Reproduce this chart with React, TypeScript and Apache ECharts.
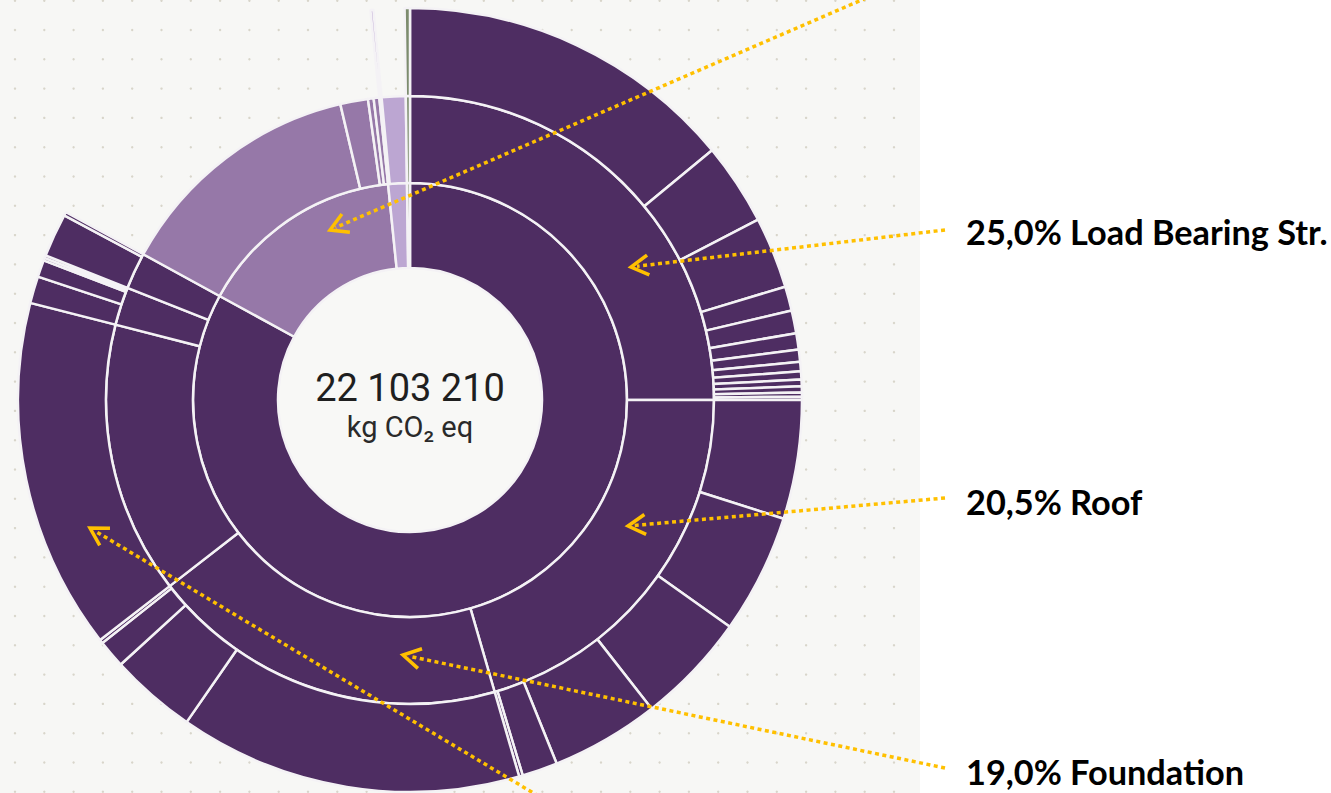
import React, { useEffect, useRef } from "react";
import * as echarts from "echarts";

// ---------- data (shares in % of the total) ----------
const TOTAL_KG = 22103210;
const centerValue = "22 103 210";
const centerUnit = "kg CO₂ eq";

const groupNames = ["Building Body", "Installations", "Site", "Other"];
const groupColors = ["#4e2d62", "#9678a8", "#bca6d2", "#7d8c6e"];

const bodyParts = ["Load Bearing Str.", "Roof", "Foundation", "Exterior Walls", "Floors", "Stairs"];
const loadBearingShares = [14.0, 3.39, 2.94, 1.0, 0.94, 0.67, 0.5, 0.39, 0.33, 0.28, 0.25, 0.17, 0.14];
const roofShares = [4.89, 4.92, 4.61, 4.47, 1.46, 0.15];
const foundationShares = [14.14, 3.56, 1.15, 0.15];
const wallShares = [14.47];
const floorShares = [1.11, 0.7, 0.11, 0.11];
const stairShares = [1.79, 0.15];

const installationParts = ["Heating", "Ventilation", "Electrical", "Plumbing"];
const installationShares = [13.36, 1.47, 0.3, 0.3];

const siteParts = ["Paving", "Landscaping"];
const siteShares = [0.12, 1.27];
const siteLeafShares = [0.12];

const otherParts = ["Misc."];
const otherShares = [0.22];

const annotationTexts = ["25,0% Load Bearing Str.", "20,5% Roof", "19,0% Foundation"];

// ---------- tree building ----------
const toKg = (pct: number) => (pct * TOTAL_KG) / 100;

function leaves(prefix: string, shares: number[], color: string) {
  return shares.map((s, i) => ({
    name: `${prefix} ${i + 1}`,
    value: toKg(s),
    itemStyle: { color },
  }));
}

function buildData() {
  const dark = groupColors[0];
  const bodyLeafSets = [loadBearingShares, roofShares, foundationShares, wallShares, floorShares, stairShares];
  const body = {
    name: groupNames[0],
    itemStyle: { color: dark },
    children: bodyParts.map((p, i) => ({
      name: p,
      itemStyle: { color: dark },
      children: leaves(p, bodyLeafSets[i], dark),
    })),
  };
  const inst = {
    name: groupNames[1],
    itemStyle: { color: groupColors[1] },
    children: installationParts.map((p, i) => ({
      name: p,
      value: toKg(installationShares[i]),
      itemStyle: { color: groupColors[1] },
    })),
  };
  const site = {
    name: groupNames[2],
    itemStyle: { color: groupColors[2] },
    children: siteParts.map((p, i) =>
      i === 0
        ? { name: p, itemStyle: { color: groupColors[2] }, children: leaves(p, siteLeafShares, groupColors[2]) }
        : { name: p, value: toKg(siteShares[i]), itemStyle: { color: groupColors[2] } }
    ),
  };
  const other = {
    name: groupNames[3],
    itemStyle: { color: groupColors[3] },
    children: otherParts.map((p, i) => ({
      name: p,
      itemStyle: { color: groupColors[3] },
      children: leaves(p, [otherShares[i]], groupColors[3]),
    })),
  };
  return [body, inst, site, other];
}

// ---------- decoration helpers ----------
function arrow(x1: number, y1: number, x2: number, y2: number) {
  const color = "#FFC000";
  const ang = Math.atan2(y1 - y2, x1 - x2);
  const L = 20;
  const sp = Math.PI / 6;
  return [
    {
      type: "polyline",
      z: 100,
      shape: { points: [[x1, y1], [x2 + 6 * Math.cos(ang), y2 + 6 * Math.sin(ang)]] },
      style: { stroke: color, lineWidth: 3.5, lineDash: [4, 3.5], fill: null },
    },
    {
      type: "polyline",
      z: 100,
      shape: {
        points: [
          [x2 + L * Math.cos(ang + sp), y2 + L * Math.sin(ang + sp)],
          [x2, y2],
          [x2 + L * Math.cos(ang - sp), y2 + L * Math.sin(ang - sp)],
        ],
      },
      style: { stroke: color, lineWidth: 3.5, fill: null },
    },
  ];
}

function buildGraphics() {
  const els: any[] = [];
  els.push({ type: "rect", z: -30, shape: { x: 0, y: 0, width: 920, height: 793 }, style: { fill: "#f7f7f5" } });
  for (let x = 15; x < 918; x += 29.3) {
    for (let y = 0.7; y < 793; y += 29.3) {
      els.push({ type: "circle", z: -29, silent: true, shape: { cx: x, cy: y, r: 1.2 }, style: { fill: "#d8d5ca" } });
    }
  }
  els.push({ type: "circle", z: -28, shape: { cx: 410, cy: 400, r: 133 }, style: { fill: "#f8f8f6" } });
  els.push({
    type: "text",
    z: 100,
    style: {
      text: centerValue, x: 410, y: 388, fontSize: 38, fontFamily: "Roboto", fontWeight: 400,
      fill: "#1f1f1f", textAlign: "center", textVerticalAlign: "middle",
    },
  });
  els.push({
    type: "text",
    z: 100,
    style: {
      text: centerUnit, x: 410, y: 427, fontSize: 29, fontFamily: "Roboto", fontWeight: 400,
      fill: "#2a2a2a", textAlign: "center", textVerticalAlign: "middle",
    },
  });
  const ys = [231, 501, 771];
  annotationTexts.forEach((t, i) => {
    els.push({
      type: "text",
      z: 100,
      x: 966,
      y: ys[i],
      scaleX: 0.98,
      style: {
        text: t, x: 0, y: 0, fontSize: 35, fontFamily: "Lato", fontWeight: "bold",
        fill: "#000000", textAlign: "left", textVerticalAlign: "middle",
      },
    });
  });
  els.push(...arrow(945, 230, 631, 267));
  els.push(...arrow(945, 498, 628, 526));
  els.push(...arrow(945, 768, 403, 655));
  els.push(...arrow(880, -8, 330, 230));
  els.push(...arrow(545, 800, 90, 528));
  return els;
}

export default function App() {
  const ref = useRef<HTMLDivElement>(null);
  useEffect(() => {
    if (!ref.current) return;
    const chart = echarts.init(ref.current, undefined, { renderer: "svg" });
    chart.setOption({
      animation: false,
      backgroundColor: "#ffffff",
      graphic: { elements: buildGraphics() },
      series: [
        {
          type: "sunburst",
          center: [410, 400],
          radius: [132, 392],
          startAngle: 90,
          sort: null,
          nodeClick: false,
          label: { show: false },
          emphasis: { focus: "none" },
          itemStyle: { borderColor: "#f4f2f5", borderWidth: 2.5 },
          levels: [{}, { r0: 132, r: 217 }, { r0: 217, r: 304 }, { r0: 304, r: 392 }],
          data: buildData(),
        },
      ],
    });
    return () => chart.dispose();
  }, []);
  return <div ref={ref} style={{ position: "fixed", left: 0, top: 0, width: 1331, height: 793 }} />;
}
